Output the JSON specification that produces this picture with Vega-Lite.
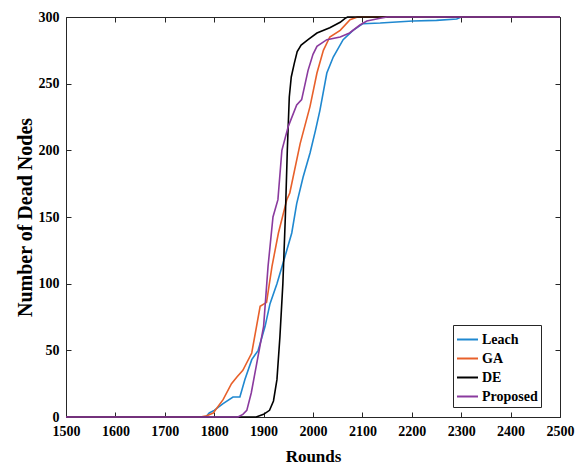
{
  "$schema": "https://vega.github.io/schema/vega-lite/v6.json",
  "autosize": {"type": "none"},
  "padding": {"left": 66, "top": 17, "right": 23, "bottom": 56},
  "width": 494,
  "height": 400,
  "background": "white",
  "config": {
    "view": {"stroke": null},
    "axis": {
      "grid": false,
      "domainColor": "#262626",
      "tickColor": "#262626",
      "labelFont": "Liberation Serif",
      "labelFontWeight": "bold",
      "labelFontSize": 14,
      "labelColor": "#000000",
      "titleFont": "Liberation Serif",
      "titleFontWeight": "bold",
      "titleFontSize": 17,
      "titleColor": "#000000",
      "tickSize": -5,
      "labelFlush": false,
      "labelOverlap": false
    }
  },
  "data": {
    "values": [
      {"r":1500,"n":0,"s":"Leach"},{"r":1783,"n":0,"s":"Leach"},{"r":1790,"n":3,"s":"Leach"},{"r":1800,"n":5,"s":"Leach"},{"r":1818,"n":10,"s":"Leach"},{"r":1838,"n":15,"s":"Leach"},{"r":1852,"n":15,"s":"Leach"},{"r":1862,"n":28,"s":"Leach"},{"r":1876,"n":43,"s":"Leach"},{"r":1889,"n":50,"s":"Leach"},{"r":1903,"n":68,"s":"Leach"},{"r":1913,"n":85,"s":"Leach"},{"r":1927,"n":100,"s":"Leach"},{"r":1943,"n":120,"s":"Leach"},{"r":1957,"n":138,"s":"Leach"},{"r":1967,"n":160,"s":"Leach"},{"r":1980,"n":180,"s":"Leach"},{"r":1994,"n":198,"s":"Leach"},{"r":2005,"n":215,"s":"Leach"},{"r":2014,"n":230,"s":"Leach"},{"r":2028,"n":258,"s":"Leach"},{"r":2041,"n":270,"s":"Leach"},{"r":2061,"n":283,"s":"Leach"},{"r":2081,"n":290,"s":"Leach"},{"r":2101,"n":295,"s":"Leach"},{"r":2136,"n":295.5,"s":"Leach"},{"r":2202,"n":297,"s":"Leach"},{"r":2250,"n":297.5,"s":"Leach"},{"r":2291,"n":298.5,"s":"Leach"},{"r":2300,"n":300,"s":"Leach"},{"r":2500,"n":300,"s":"Leach"},
      {"r":1500,"n":0,"s":"GA"},{"r":1772,"n":0,"s":"GA"},{"r":1785,"n":1,"s":"GA"},{"r":1798,"n":3,"s":"GA"},{"r":1818,"n":13,"s":"GA"},{"r":1835,"n":25,"s":"GA"},{"r":1846,"n":30,"s":"GA"},{"r":1858,"n":35,"s":"GA"},{"r":1876,"n":48,"s":"GA"},{"r":1893,"n":83,"s":"GA"},{"r":1906,"n":86,"s":"GA"},{"r":1917,"n":113,"s":"GA"},{"r":1930,"n":138,"s":"GA"},{"r":1947,"n":163,"s":"GA"},{"r":1953,"n":168,"s":"GA"},{"r":1974,"n":205,"s":"GA"},{"r":1994,"n":233,"s":"GA"},{"r":2008,"n":258,"s":"GA"},{"r":2021,"n":275,"s":"GA"},{"r":2034,"n":285,"s":"GA"},{"r":2055,"n":290,"s":"GA"},{"r":2075,"n":298,"s":"GA"},{"r":2090,"n":300,"s":"GA"},{"r":2500,"n":300,"s":"GA"},
      {"r":1500,"n":0,"s":"DE"},{"r":1885,"n":0,"s":"DE"},{"r":1900,"n":2,"s":"DE"},{"r":1912,"n":5,"s":"DE"},{"r":1920,"n":12,"s":"DE"},{"r":1927,"n":28,"s":"DE"},{"r":1933,"n":60,"s":"DE"},{"r":1939,"n":100,"s":"DE"},{"r":1944,"n":150,"s":"DE"},{"r":1948,"n":200,"s":"DE"},{"r":1952,"n":240,"s":"DE"},{"r":1956,"n":255,"s":"DE"},{"r":1962,"n":265,"s":"DE"},{"r":1968,"n":274,"s":"DE"},{"r":1976,"n":279,"s":"DE"},{"r":1990,"n":283,"s":"DE"},{"r":2008,"n":288,"s":"DE"},{"r":2034,"n":292,"s":"DE"},{"r":2055,"n":296,"s":"DE"},{"r":2065,"n":299,"s":"DE"},{"r":2070,"n":300,"s":"DE"},{"r":2500,"n":300,"s":"DE"},
      {"r":1500,"n":0,"s":"Proposed"},{"r":1848,"n":0,"s":"Proposed"},{"r":1858,"n":2,"s":"Proposed"},{"r":1866,"n":5,"s":"Proposed"},{"r":1875,"n":18,"s":"Proposed"},{"r":1885,"n":38,"s":"Proposed"},{"r":1900,"n":68,"s":"Proposed"},{"r":1909,"n":113,"s":"Proposed"},{"r":1919,"n":150,"s":"Proposed"},{"r":1929,"n":163,"s":"Proposed"},{"r":1937,"n":200,"s":"Proposed"},{"r":1950,"n":218,"s":"Proposed"},{"r":1967,"n":234,"s":"Proposed"},{"r":1977,"n":238,"s":"Proposed"},{"r":1990,"n":260,"s":"Proposed"},{"r":2000,"n":272,"s":"Proposed"},{"r":2008,"n":278,"s":"Proposed"},{"r":2028,"n":283,"s":"Proposed"},{"r":2055,"n":285,"s":"Proposed"},{"r":2074,"n":288,"s":"Proposed"},{"r":2095,"n":294,"s":"Proposed"},{"r":2109,"n":297,"s":"Proposed"},{"r":2136,"n":299,"s":"Proposed"},{"r":2150,"n":300,"s":"Proposed"},{"r":2500,"n":300,"s":"Proposed"}
    ]
  },
  "layer": [
    {
      "mark": {"type": "line", "strokeWidth": 1.6, "clip": false},
      "encoding": {
        "x": {"field": "r", "type": "quantitative", "scale": {"domain": [1500, 2500], "nice": false, "zero": false},
              "axis": {"title": "Rounds", "format": "d", "labelOverlap": false, "values": [1500,1600,1700,1800,1900,2000,2100,2200,2300,2400,2500], "labelPadding": 12, "titlePadding": 10}},
        "y": {"field": "n", "type": "quantitative", "scale": {"domain": [0, 300], "nice": false},
              "axis": {"title": "Number of Dead Nodes", "format": "d", "labelOverlap": false, "titleFontSize": 20, "values": [0,50,100,150,200,250,300], "labelPadding": 12, "titlePadding": 3}},
        "color": {"field": "s", "type": "nominal",
                  "scale": {"domain": ["Leach", "GA", "DE", "Proposed"], "range": ["#1f88d0", "#e8602a", "#000000", "#8a3a9e"]},
                  "legend": {"title": null, "orient": "none", "legendX": 387, "legendY": 308,
                             "symbolType": "stroke", "symbolSize": 441, "symbolStrokeWidth": 2,
                             "labelFont": "Liberation Serif", "labelFontWeight": "bold", "labelFontSize": 14, "labelColor": "#000000",
                             "strokeColor": "#262626", "fillColor": "white", "padding": 3, "rowPadding": 0, "labelOffset": 3}}
      }
    },
    {
      "mark": {"type": "line", "opacity": 0},
      "encoding": {
        "x": {"field": "r", "type": "quantitative", "axis": {"orient": "top", "labels": false, "title": null, "values": [1500,1600,1700,1800,1900,2000,2100,2200,2300,2400,2500]}},
        "y": {"field": "n", "type": "quantitative", "axis": {"orient": "right", "labels": false, "title": null, "values": [0,50,100,150,200,250,300]}}
      }
    }
  ],
  "resolve": {"axis": {"x": "independent", "y": "independent"}}
}
